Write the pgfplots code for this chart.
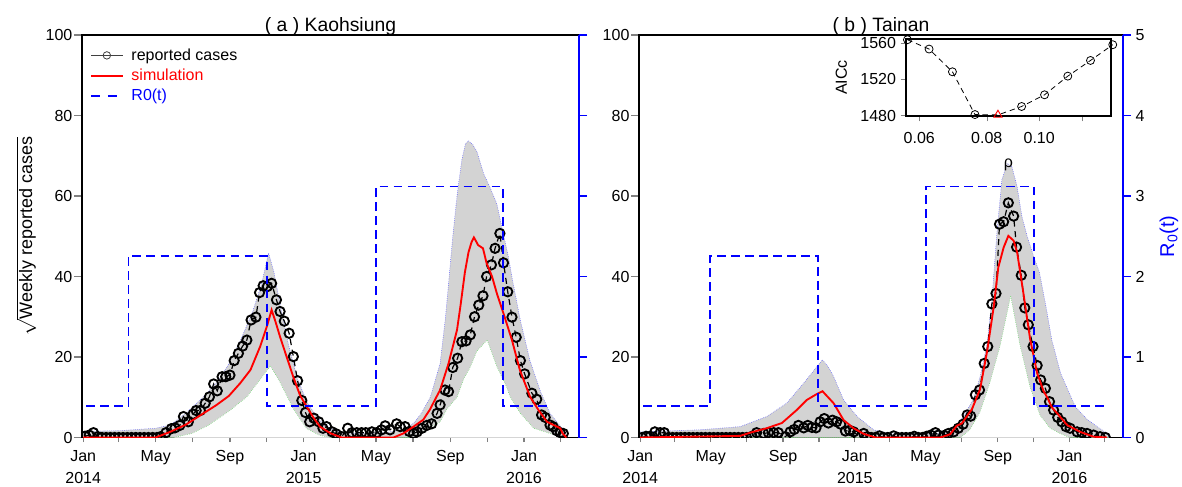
\documentclass[border=0pt]{standalone}
\usepackage{pgfplots}
\pgfplotsset{compat=1.18}
\usepackage{pgfplotstable}
\usepackage{fontspec}
\setmainfont{Liberation Sans}
\definecolor{bandgray}{RGB}{211,211,211}
\definecolor{rblue}{RGB}{0,0,255}
\definecolor{rred}{RGB}{255,0,0}
\definecolor{rpink}{RGB}{255,110,110}
\definecolor{rgreen}{RGB}{90,210,90}

% ---------------- Kaohsiung ----------------
\pgfplotstableread{
day val
3 0.3
10 0.6
17 1.2
24 0.2
31 0
38 0
45 0
52 0
59 0
66 0
73 0
80 0
87 0
94 0
101 0
108 0
115 0
122 0
128 0.2
137 1.2
146 2.2
152 2.4
160 3.0
166 5.2
174 3.9
182 5.8
187 6.7
194 6.7
202 8.5
209 10.1
216 13.3
222 11.6
230 15.1
236 15.1
243 15.5
250 19.1
257 20.9
264 22.7
271 24.2
278 29.2
286 29.9
292 36.0
298 37.7
305 37.5
312 38.3
320 34.2
326 31.3
333 28.9
341 25.9
348 20.1
355 14.1
362 9.2
368 6.2
375 3.9
382 4.8
390 3.9
397 2.3
403 2.7
412 1.4
419 0.9
428 0.2
438 2.3
445 1.2
453 1.2
461 1.2
468 1.2
478 1.4
486 1.2
494 1.9
500 2.9
508 1.9
519 3.4
525 2.7
533 2.7
540 1.5
547 1.0
553 1.4
561 2.3
569 3.0
577 3.4
586 6.0
591 8.1
599 11.8
605 11.4
612 17.4
620 19.7
627 23.8
634 24.0
641 25.5
648 30.0
655 32.9
662 35.2
668 40.0
676 42.9
682 47.0
690 50.7
696 43.4
703 36.2
710 29.9
717 24.9
724 19.1
731 15.8
743 11.0
751 9.5
759 5.6
765 5.0
773 3.1
778 2.7
784 1.7
790 1.2
795 1.0
}\kaoObs

\pgfplotstableread{
day val
0 0
120 0
144 1.4
170 3.2
199 6.0
220 8.0
241 10.3
260 13.5
277 16.8
293 22.6
305 28.0
312 31.7
319 28.5
326 25.0
337 20.0
348 15.0
359 10.5
370 7.7
381 5.0
392 2.7
410 1.0
428 0
514 0
530 1.0
547 2.7
563 4.4
574 6.9
585 10.1
591 11.8
605 18.4
619 26.7
625 33.0
632 41.0
638 46.0
643 48.5
647 49.7
654 47.8
662 47.0
668 43.3
677 40.0
685 35.8
696 30.8
710 24.2
723 16.8
740 10.1
754 6.8
768 3.9
790 2.3
794 1.0
800 0
}\kaoSim

\pgfplotstableread{
day val
0 1.5
60 1.7
120 2.3
144 3.1
170 6.0
199 10.1
220 13.5
240 18.0
260 24.0
280 31.0
295 38.0
307 45.8
316 41.0
326 33.0
340 23.0
355 14.5
370 9.0
385 5.5
400 3.0
420 1.5
450 1.0
500 1.2
530 2.0
547 3.5
560 6.0
575 10.1
591 18.4
600 30.0
606 40.0
612 50.0
619 60.0
627 69.0
633 73.0
638 73.7
645 72.8
652 71.0
663 65.6
674 62.0
685 58.0
693 52.4
704 45.0
711 39.0
724 29.0
740 19.0
757 11.5
773 6.0
790 2.8
796 1.5
}\kaoUp

\pgfplotstableread{
day val
0 0
150 0
180 1.0
207 3.0
243 6.7
271 10.1
293 14.4
310 17.8
326 13.7
348 7.1
370 2.2
392 0.5
410 0
550 0
574 2.5
591 3.9
602 7.0
619 10.0
630 14.5
641 17.5
652 21.5
669 24.2
685 17.6
701 12.6
707 10.1
724 6.0
746 2.3
773 1.0
796 0
}\kaoLo

% ---------------- Tainan ----------------
\pgfplotstableread{
day val
3 0
10 0.3
17 0.3
25 1.4
34 1.2
41 1.2
48 0
55 0
62 0
69 0
76 0
83 0
90 0
97 0
104 0
111 0
118 0
125 0
132 0
139 0
146 0
153 0
160 0
167 0
174 0
181 0
190 0.3
198 1.2
210 1.0
218 1.2
227 1.2
235 1.2
247 0.2
255 1.4
262 2.0
269 3.0
278 2.4
285 3.0
292 2.5
299 2.4
306 3.9
313 4.7
320 3.6
327 4.3
334 3.9
341 3.3
349 1.6
356 1.8
363 1.4
370 0.6
380 1.0
386 0.2
393 0
400 0
407 0.4
414 0
421 0
431 0.4
438 0
445 0
452 0
459 0
466 0.3
473 0
480 0
487 0.3
494 0.6
502 1.2
507 0.6
517 0.5
524 1.0
533 1.4
541 2.3
549 3.3
556 5.6
562 5.3
570 10.6
577 11.8
585 18.4
591 22.6
598 33.2
605 35.8
611 53.0
618 53.6
626 58.3
635 55.0
640 47.3
648 40.3
654 32.2
660 28.0
668 22.6
675 17.9
681 14.3
689 12.2
696 8.9
703 6.8
710 5.0
717 3.9
724 2.7
731 2.3
743 1.4
751 1.2
760 1.0
771 0.6
782 0.2
791 0
}\taiObs

\pgfplotstableread{
day val
0 0
170 0.4
187 1.2
215 2.3
241 3.6
266 6.8
283 9.3
298 10.6
310 11.5
329 8.5
346 4.3
363 2.3
380 0.9
400 0
510 0
527 0.8
538 2.9
547 3.5
558 5.8
564 7.0
578 12.0
590 21.5
601 32.3
609 42.3
618 47.2
626 50.1
635 48.9
641 46.0
652 35.5
663 24.5
675 16.0
686 11.5
692 10.0
700 7.5
709 6.0
726 3.1
748 1.4
771 0.2
794 0
}\taiSim

\pgfplotstableread{
day val
0 1.4
100 1.9
170 2.7
215 5.2
249 8.5
278 13.5
300 17.5
310 19.3
320 17.5
329 15.1
346 9.3
369 5.2
397 1.9
431 0.8
480 0.8
510 0.9
527 1.2
550 5.2
567 9.7
578 15.1
590 23.4
598 34.2
607 51.6
615 64.0
624 68.1
632 67.3
641 62.3
649 55.0
658 50.0
669 45.0
679 41.0
690 32.5
700 24.2
715 15.9
740 7.6
760 4.5
777 2.7
794 1.0
797 0
}\taiUp

\pgfplotstableread{
day val
0 0
545 0
561 2.0
578 6.4
595 13.8
612 22.8
630 35.2
646 22.8
663 12.5
680 5.5
697 2.3
714 1.0
730 0
797 0
}\taiLo

% ---------------- inset ----------------
\pgfplotstableread{
rho aicc
0.05705 1563.7
0.06256 1553.4
0.06911 1528.3
0.07607 1481.1
0.08389 1480.7
0.09279 1490.0
0.10231 1502.9
0.11297 1523.5
0.12444 1540.8
0.13682 1558.2
}\aicc

\pgfplotstableread{
rho aicc
0.05705 1563.7
0.06256 1553.4
0.06911 1528.3
0.07607 1481.1
0.09279 1490.0
0.10231 1502.9
0.11297 1523.5
0.12444 1540.8
0.13682 1558.2
}\aiccblack

\pgfplotsset{
  panel/.style={
    scale only axis, height=301.875pt, xmin=-2, xmax=821, ymin=0, ymax=100,
    /pgf/number format/assume math mode=true,
    tick label style={font=\fontsize{12}{14.4}\selectfont},
    tick align=outside,
    xtick pos=bottom, ytick pos=left,
    ytick={0,20,40,60,80,100},
    xtick={0,59,120,181,243,304,365,424,485,546,608,669,730,790},
    xticklabels={{Jan\\[2.5pt]2014},{},May,{},Sep,{},{Jan\\[2.5pt]2015},{},May,{},Sep,{},{Jan\\[2.5pt]2016},{}},
    xticklabel style={align=center},
    yticklabel style={inner sep=1pt},
    axis line style={line width=0.9pt},
    major tick length=6pt,
    xtick style={line width=0.9pt, /pgfplots/major tick length=3.5pt},
    ytick style={line width=0.9pt},
    title style={font=\fontsize{14.5}{17}\selectfont, at={(0.5,1)}, anchor=base, yshift=-3.5pt},
    clip marker paths=true,
  },
  r0axis/.style={
    scale only axis, height=301.875pt, xmin=-2, xmax=821, ymin=0, ymax=5,
    axis y line*=right, axis x line=none,
    /pgf/number format/assume math mode=true,
    tick label style={font=\fontsize{12}{14.4}\selectfont},
    tick align=outside, major tick length=6pt,
    y axis line style={rblue, line width=1.4pt},
    ytick style={rblue, line width=1pt},
    ytick={0,1,2,3,4,5},
  },
  obs/.style={black, line width=0.9pt, dash pattern=on 4.5pt off 3.5pt, mark=o, mark size=3.5pt, mark options={solid, line width=1.4pt}},
  sim/.style={rred, line width=1.4pt},
  r0line/.style={rblue, line width=1.4pt, dash pattern=on 6.5pt off 4pt},
  upline/.style={rblue!70, line width=0.4pt, densely dotted},
  loline/.style={rgreen, line width=0.4pt, densely dotted},
}

\begin{document}
\begin{tikzpicture}
\useasboundingbox (0,0) rectangle (886.5pt,364.5pt);

% ================= panel a =================
\begin{axis}[panel, at={(61.5pt,36.375pt)}, anchor=south west, width=372.75pt,
  title={( a ) Kaohsiung},
  ylabel={$\sqrt{\mbox{Weekly reported cases}}$},
  ylabel style={font=\fontsize{13.5}{16}\selectfont, at={(axis description cs:-0.112,0.5)}, anchor=center},
  legend style={at={(0,1)}, anchor=north west, xshift=3pt, yshift=-6pt, draw=none, fill=none,
    font=\fontsize{12}{14.4}\selectfont, row sep=1pt},
  legend cell align=left,
  legend image code/.code={\draw[mark repeat=2,mark phase=2,#1] plot coordinates {(0pt,0pt) (11.75pt,0pt) (23.5pt,0pt)};},
]
\addplot[fill=bandgray, draw=none, forget plot] table[x=day,y=val] {\kaoUp} \closedcycle;
\addplot[fill=white, draw=none, forget plot] table[x=day,y=val] {\kaoLo} \closedcycle;
\addplot[upline, forget plot] table[x=day,y=val] {\kaoUp};
\addplot[loline, forget plot] table[x=day,y=val] {\kaoLo};
\addplot[obs, forget plot] table[x=day,y=val] {\kaoObs};
\addlegendimage{color=black!75, line width=0.6pt, mark=o, mark size=2.8pt, mark options={solid}}
\addlegendentry{\hspace{4pt}reported cases}
\addplot[sim] table[x=day,y=val] {\kaoSim};
\addlegendentry[text=rred]{\hspace{4pt}simulation}
\addlegendimage{color=rblue, line width=1.4pt, dash pattern=on 6.5pt off 6pt, no marks}
\addlegendentry[text=rblue]{\hspace{4pt}R0(t)}
\end{axis}

\begin{axis}[r0axis, at={(61.5pt,36.375pt)}, anchor=south west, width=372.75pt,
  yticklabels={},
]
\addplot[r0line] coordinates {(5,0.395) (75,0.395) (75,2.255) (304,2.255) (304,0.395) (485,0.395) (485,3.118) (695,3.118) (695,0.395) (776,0.395)};
\end{axis}

% ================= panel b =================
\begin{axis}[panel, at={(479.25pt,36.375pt)}, anchor=south west, width=363pt,
  title={( b ) Tainan},
]
\addplot[fill=bandgray, draw=none, forget plot] table[x=day,y=val] {\taiUp} \closedcycle;
\addplot[fill=white, draw=none, forget plot] table[x=day,y=val] {\taiLo} \closedcycle;
\addplot[upline, forget plot] table[x=day,y=val] {\taiUp};
\addplot[loline, forget plot] table[x=day,y=val] {\taiLo};
\addplot[obs, forget plot] table[x=day,y=val] {\taiObs};
\addplot[sim, forget plot] table[x=day,y=val] {\taiSim};
\end{axis}

\begin{axis}[r0axis, at={(479.25pt,36.375pt)}, anchor=south west, width=363pt,
  ylabel={R\textsubscript{0}(t)},
  ylabel style={rblue, font=\fontsize{15}{18}\selectfont, at={(axis description cs:1.095,0.5)}, anchor=center},
]
\addplot[r0line] coordinates {(5,0.395) (119,0.395) (119,2.255) (303,2.255) (303,0.395) (486,0.395) (486,3.118) (670,3.118) (670,0.395) (795,0.395)};
\end{axis}

% ================= inset =================
\begin{axis}[at={(679.5pt,277.5pt)}, anchor=south west, scale only axis, width=153.75pt, height=57.75pt,
  xmode=log, xmin=0.0567, xmax=0.1358, ymin=1479.5, ymax=1564.5,
  xtick={0.06,0.08,0.1,0.12}, xticklabels={0.06,0.08,0.10,{}}, xminorticks=false,
  ytick={1480,1520,1560}, yticklabels={1480,1520,1560},
  tick align=outside, xtick pos=bottom, ytick pos=left, major tick length=4pt,
  tick label style={font=\fontsize{12}{14.4}\selectfont},
  xticklabel style={yshift=-4.5pt},
  axis background/.style={fill=white},
  axis line style={line width=0.8pt},
  ylabel={AICc}, ylabel style={font=\fontsize{12}{14.4}\selectfont, at={(axis description cs:-0.315,0.5)}, anchor=center},
  xlabel={ρ}, xlabel style={font=\fontsize{12}{14.4}\selectfont, at={(axis description cs:0.5,0)}, anchor=center, yshift=-36.75pt},
  clip=false,
]
\addplot[black, line width=0.6pt, dash pattern=on 4pt off 3pt] table[x=rho,y=aicc] {\aicc};
\addplot[only marks, black, mark=o, mark size=3pt, mark options={fill=white, line width=0.6pt}] table[x=rho,y=aicc] {\aiccblack};
\addplot[only marks, rred, mark=triangle, mark size=3.5pt, mark options={fill=white, line width=0.7pt}] coordinates {(0.08389,1480.7)};
\end{axis}
\end{tikzpicture}
\end{document}
